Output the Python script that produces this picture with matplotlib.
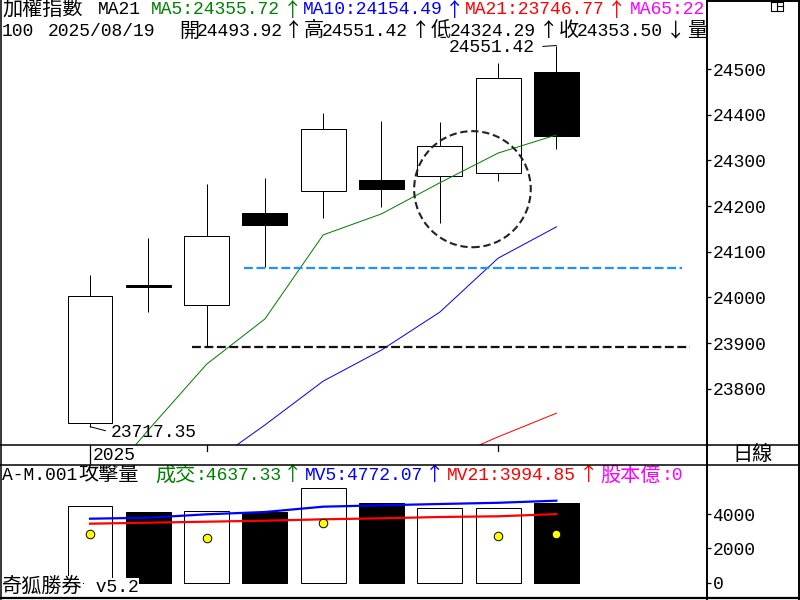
import matplotlib
matplotlib.use("Agg")
import matplotlib.pyplot as plt
from matplotlib.patches import Rectangle, Ellipse
from matplotlib.lines import Line2D
import numpy as np
import pandas as pd

# ---------------- data ----------------
dates = ['2025/08/07', '2025/08/08', '2025/08/11', '2025/08/12', '2025/08/13',
         '2025/08/14', '2025/08/15', '2025/08/18', '2025/08/19']
opens = [23725, 24027, 23983, 24185, 24233, 24257, 24265, 24272, 24493.92]
highs = [24049, 24130, 24248, 24262, 24404, 24386, 24384, 24514, 24551.42]
lows = [23717.35, 23969, 23892, 24067, 24174, 24199, 24164, 24256, 24324.29]
closes = [24003, 24022, 24135, 24159, 24369, 24238, 24331, 24480, 24353.50]

ma5 = [23560, 23710, 23854, 23953, 24137, 24183, 24251, 24316, 24355.72]
ma10 = [np.nan, np.nan, 23630, 23721, 23817, 23885, 23968, 24086, 24154.49]
ma21 = [np.nan, np.nan, np.nan, np.nan, np.nan, np.nan, 23640, 23695, 23746.77]

volume = [4464, 4116, 4155, 4116, 5490, 4638, 4330, 4330, 4637.33]
attack = [2823, np.nan, 2626, np.nan, 3496, np.nan, np.nan, 2742, 2858]
mv5 = [3727, 3785, 3982, 4116, 4425, 4504, 4580, 4650, 4772.07]
mv21 = [3438, 3496, 3554, 3612, 3693, 3751, 3826, 3867, 3994.85]

level_black = 23892
level_blue = 24065
level_black_span = [1.75, 10.29]
level_blue_span = [2.64, 10.15]
circle_center = [6.56, 24237]
circle_size = [2.0, 254]

price_ticks = [23800, 23900, 24000, 24100, 24200, 24300, 24400, 24500]
vol_ticks = [0, 2000, 4000]

# ---------------- setup ----------------
MONO = ['Liberation Mono', 'Noto Sans CJK TC']
CJK = ['Noto Sans CJK TC', 'Liberation Mono']
plt.rcParams['font.family'] = MONO
W, H = 800, 600
fig = plt.figure(figsize=(8, 6), dpi=100)
fig.patch.set_facecolor('white')

def fbox(x0, y0, x1, y1):
    return [x0 / W, 1 - y1 / H, (x1 - x0) / W, (y1 - y0) / H]

XL = ((1 - 90) / 58.3, (707 - 90) / 58.3)
ax = fig.add_axes(fbox(1, 0, 707, 445))
axd = fig.add_axes(fbox(1, 445, 707, 465))
axv = fig.add_axes(fbox(1, 465, 707, 598))
for a in (ax, axd, axv):
    for s in a.spines.values():
        s.set_visible(False)
    a.set_xlim(*XL)
    a.set_xticks([])
axd.set_yticks([])
axd.set_ylim(0, 1)

n = len(dates)
xs = np.arange(n)
bw = 0.77
LW = 0.72

# ---------------- main candles ----------------
ax.set_ylim(23677.2, 24651.0)
for i in range(n):
    o, h, l, c = opens[i], highs[i], lows[i], closes[i]
    ax.plot([i, i], [l, h], color='black', lw=LW, zorder=2, solid_capstyle='butt')
    up = c >= o
    ax.add_patch(Rectangle((i - bw / 2, min(o, c)), bw, abs(c - o),
                           facecolor='white' if up else 'black',
                           edgecolor='black', lw=LW, zorder=3))

ax.plot(xs, ma5, color='#008000', lw=LW, zorder=4)
ax.plot(xs, ma10, color='#0000ff', lw=LW, zorder=4)
ax.plot(xs, ma21, color='#ff0000', lw=LW, zorder=4)

ax.plot(level_black_span, [level_black] * 2, color='#111111', lw=1.6,
        dashes=(4, 1.6), zorder=5)
ax.plot(level_blue_span, [level_blue] * 2, color='#1e90ff', lw=1.6,
        dashes=(4, 1.6), zorder=5)
ax.add_patch(Ellipse(circle_center, circle_size[0], circle_size[1], fill=False,
                     edgecolor='#222222', lw=1.5, ls=(0, (3.5, 1.8)), zorder=6))

ax.yaxis.tick_right()
ax.set_yticks(price_ticks)
ax.set_yticklabels([str(t) for t in price_ticks])
ax.tick_params(axis='y', direction='out', length=3, width=0.9, pad=1,
               labelsize=13, colors='black')

imax = int(np.argmax(highs))
imin = int(np.argmin(lows))
ax.annotate(f"{highs[imax]:.2f}", xy=(imax, highs[imax]), xytext=(-22, -1.5),
            textcoords='offset pixels', ha='right', va='center', fontsize=13,
            arrowprops=dict(arrowstyle='-', relpos=(1, 0.5), shrinkA=4, shrinkB=0,
                            lw=LW, color='black'), zorder=7)
ax.annotate(f"{lows[imin]:.2f}", xy=(imin, lows[imin]), xytext=(21, -5.5),
            textcoords='offset pixels', ha='left', va='center', fontsize=13,
            arrowprops=dict(arrowstyle='-', relpos=(0, 0.5), shrinkA=2, shrinkB=0,
                            lw=LW, color='black'), zorder=7)

# ---------------- date strip ----------------
dt = pd.to_datetime(dates)
axd.plot([0, 0], [0, 1], color='black', lw=0.9)
axd.text(0.04, 0.5, str(dt[0].year), ha='left', va='center', fontsize=13)
for i in range(1, n):
    if dt[i].weekday() == 0:
        axd.plot([i, i], [1, 0.7], color='black', lw=0.9)

# ---------------- volume ----------------
axv.set_ylim(-870, 6841)
for i in range(n):
    up = closes[i] >= opens[i]
    axv.add_patch(Rectangle((i - bw / 2, 0), bw, volume[i],
                            facecolor='white' if up else 'black',
                            edgecolor='black', lw=LW, zorder=2))
axv.plot(xs, mv5, color='#0000ff', lw=1.6, zorder=3)
axv.plot(xs, mv21, color='#ff0000', lw=1.6, zorder=3)
axv.scatter(xs, attack, s=38, facecolor='#ffff00', edgecolor='black',
            linewidths=0.7, zorder=4)
axv.yaxis.tick_right()
axv.set_yticks(vol_ticks)
axv.set_yticklabels([str(t) for t in vol_ticks])
axv.tick_params(axis='y', direction='out', length=3, width=0.9, pad=1,
                labelsize=13, colors='black')

# ---------------- header texts ----------------
def put(axx, x, y, s, color='black', cjk=False, ha='left', size=None, bg=None):
    kw = {}
    if bg:
        kw['bbox'] = dict(facecolor=bg, edgecolor='none', pad=0.5)
    axx.text(x / W, 1 - y / H, s, transform=fig.transFigure, color=color,
             ha=ha, va='center', family=CJK if cjk else MONO,
             fontsize=size if size else (14.5 if cjk else 13), clip_on=True,
             zorder=10, **kw)

def arrow(axx, x, y, s, color='black'):
    put(axx, x, y, s, color, cjk=True, ha='center', size=14)

G, B, R, M = '#008000', '#0000ff', '#ff0000', '#ff00ff'
y1, y2 = 10, 31
put(ax, 2, y1, '加權指數', cjk=True)
put(ax, 98, y1, 'MA21')
put(ax, 151, y1, 'MA5:24355.72', G)
arrow(ax, 293, y1, '↑', G)
put(ax, 303, y1, 'MA10:24154.49', B)
arrow(ax, 455, y1, '↑', B)
put(ax, 465, y1, 'MA21:23746.77', R)
arrow(ax, 617, y1, '↑', R)
put(ax, 630, y1, 'MA65:22', M)

put(ax, 2, y2, '100')
put(ax, 48, y2, dates[-1])
put(ax, 179, y2, '開', cjk=True)
put(ax, 197, y2, f'{opens[-1]:.2f}')
arrow(ax, 294, y2, '↑')
put(ax, 304, y2, '高', cjk=True)
put(ax, 322, y2, f'{highs[-1]:.2f}')
arrow(ax, 421, y2, '↑')
put(ax, 431, y2, '低', cjk=True)
put(ax, 450, y2, f'{lows[-1]:.2f}')
arrow(ax, 549, y2, '↑')
put(ax, 559, y2, '收', cjk=True)
put(ax, 577, y2, f'{closes[-1]:.2f}')
arrow(ax, 676, y2, '↓')
put(ax, 687, y2, '量', cjk=True)

yv = 475
put(axv, 2, yv, 'A-M.001')
put(axv, 78, yv, '攻擊量', cjk=True)
put(axv, 155, yv, '成交', G, cjk=True)
put(axv, 196, yv, f':{volume[-1]:.2f}', G)
arrow(axv, 293, yv, '↑', G)
put(axv, 305, yv, f'MV5:{mv5[-1]:.2f}', B)
arrow(axv, 435, yv, '↑', B)
put(axv, 447, yv, f'MV21:{mv21[-1]:.2f}', R)
arrow(axv, 589, yv, '↑', R)
put(axv, 600, yv, '股本億', M, cjk=True)
put(axv, 662, yv, ':0', M)

put(axv, 2, 587, '奇狐勝券', cjk=True, bg='white')
put(axv, 85, 587, ' v5.2', bg='white')

fig.text(753 / W, 1 - 455 / H, '日線', ha='center', va='center',
         family=CJK, fontsize=14.5)

# ---------------- frame lines ----------------
def fl(xa, ya, lw=1.1):
    fig.add_artist(Line2D([x / W for x in xa], [1 - y / H for y in ya],
                          transform=fig.transFigure, color='black', lw=lw,
                          solid_capstyle='projecting', zorder=20))

fl([0.7, 0.7], [0, 598.5])
fl([0, 799], [598.3, 598.3], lw=1.6)
fl([798.6, 798.6], [0, 599], lw=1.4)
fl([707, 707], [0, 598.5], lw=1.4)
fl([0, 799], [445, 445])
fl([0, 799], [465, 465])
fl([707, 799], [0.6, 0.6], lw=1.4)
# small window icon top right
fl([771, 783, 783, 771, 771], [2, 2, 11, 11, 2], lw=0.8)
fl([777, 777], [2, 11], lw=0.8)
fl([777, 783], [6, 6], lw=0.8)

fig.savefig('out.png', dpi=100, facecolor='white')
